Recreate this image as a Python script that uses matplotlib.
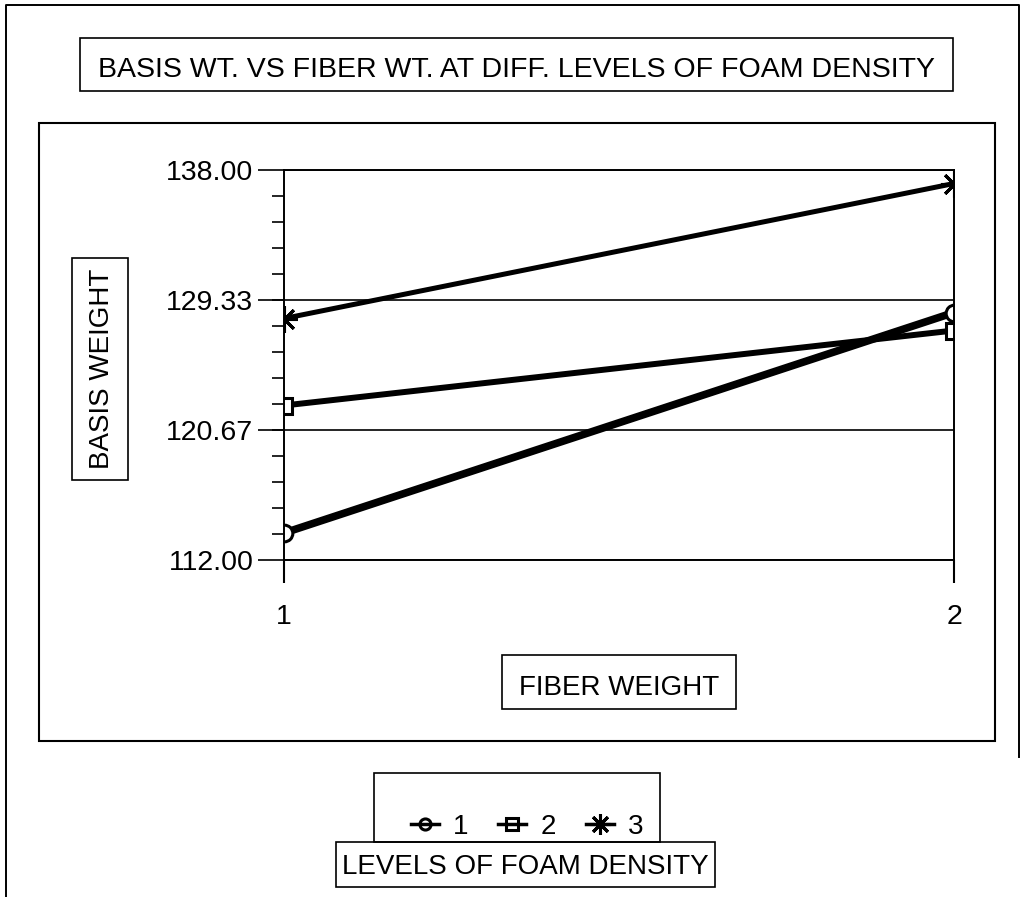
import numpy as np
import matplotlib
matplotlib.use('Agg')
import matplotlib.pyplot as plt
from matplotlib.patches import Rectangle
from matplotlib.lines import Line2D

plt.rcParams['font.family'] = ['Liberation Sans', 'DejaVu Sans']

# data
fiber_levels = [1, 2]
foam_levels = ['1', '2', '3']
basis_wt = {
    '1': [113.8, 128.5],
    '2': [122.3, 127.3],
    '3': [128.1, 137.1],
}
y_ticks = [112.00, 120.67, 129.33, 138.00]

W, H = 1028, 897


def box(ax, x0, y0, x1, y1, lw=1.2):
    ax.add_patch(Rectangle((x0, y0), x1 - x0, y1 - y0, fill=False,
                           edgecolor='black', linewidth=lw))


def main():
    fig = plt.figure(figsize=(W / 100, H / 100), dpi=100)

    # background layer in pixel coordinates for the frames / label boxes
    bg = fig.add_axes([0, 0, 1, 1])
    bg.set_xlim(0, W)
    bg.set_ylim(H, 0)
    bg.axis('off')

    # outer frame (no bottom edge)
    bg.plot([6, 6, 1019, 1019], [H, 5, 5, 757], color='black', lw=1.4)
    # title box
    box(bg, 80, 38, 953, 91)
    bg.text(516, 70, 'BASIS WT. VS FIBER WT. AT DIFF. LEVELS OF FOAM DENSITY',
            ha='center', va='center', fontsize=20.5)
    # plot frame
    box(bg, 39, 123, 995, 741, lw=1.5)
    # y label box
    box(bg, 72, 258, 128, 480)
    bg.text(102, 369, 'BASIS WEIGHT', rotation=90, ha='center', va='center',
            fontsize=20)
    # x label box
    box(bg, 502, 655, 736, 709)
    bg.text(619, 688, 'FIBER WEIGHT', ha='center', va='center', fontsize=20)
    # legend boxes
    box(bg, 374, 773, 660, 842)
    box(bg, 336, 842, 715, 887)
    bg.text(525, 867, 'LEVELS OF FOAM DENSITY', ha='center', va='center',
            fontsize=20)

    # data axes
    ax = fig.add_axes([284 / W, 1 - 560 / H, 670 / W, 390 / H])
    ax.patch.set_alpha(0)
    styles = {
        '1': dict(marker='o', lw=5.5, ms=12, lms=8),
        '2': dict(marker='s', lw=4.3, ms=12, lms=9),
        '3': dict(marker=(8, 2, 0), lw=3.6, ms=19, lms=15),
    }
    handles = []
    for lev in foam_levels:
        st = styles[lev]
        ax.plot(fiber_levels, basis_wt[lev], color='black', lw=st['lw'],
                marker=st['marker'], ms=st['ms'], mfc='white', mec='black',
                mew=2.2)
        handles.append(Line2D([], [], color='black', lw=2.5,
                              marker=st['marker'], ms=st['lms'],
                              mfc='none', mec='black', mew=2.2))

    ax.set_xlim(1, 2)
    ax.set_ylim(112, 138)
    ax.set_xticks(fiber_levels)
    ax.set_xticklabels([str(v) for v in fiber_levels])
    ax.set_yticks(y_ticks)
    ax.set_yticklabels(['%.2f' % v for v in y_ticks])
    ax.set_yticks(np.linspace(112, 138, 16), minor=True)
    ax.grid(axis='y', which='major', color='black', lw=1.2)
    ax.tick_params(axis='y', which='major', direction='out', length=19,
                   width=1.2, pad=3, labelsize=20.5)
    ax.tick_params(axis='y', which='minor', direction='out', length=9,
                   width=1.2)
    ax.tick_params(axis='x', direction='out', length=16.5, width=1.5,
                   pad=15, labelsize=20.5)
    for sp in ax.spines.values():
        sp.set_linewidth(1.4)

    fig.legend(handles, foam_levels, ncol=3, frameon=False, loc='center',
               bbox_to_anchor=(527 / W, 1 - 827 / H), fontsize=20,
               handlelength=1.0, handletextpad=0.5, columnspacing=1.1)

    fig.savefig('out.png', dpi=100)


if __name__ == '__main__':
    main()
